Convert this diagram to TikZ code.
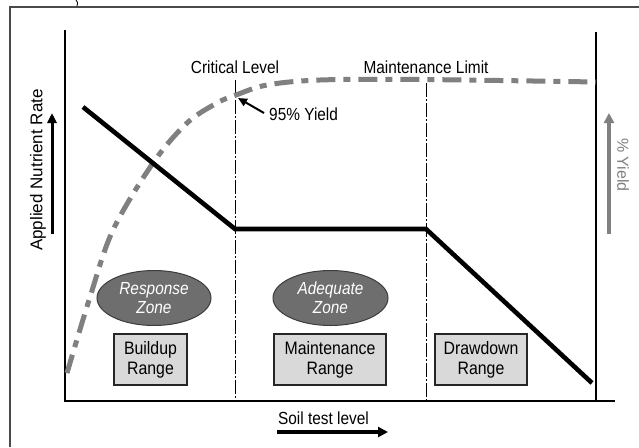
\documentclass[tikz,border=0pt]{standalone}
\usepackage{fontspec}
\setmainfont{Liberation Sans}[FakeStretch=0.88]
\newfontfamily\widesans{Liberation Sans}
\usetikzlibrary{arrows.meta,shapes.geometric}
\definecolor{curvegray}{HTML}{808080}
\definecolor{zonegray}{HTML}{6E6E6E}
\definecolor{zoneedge}{HTML}{3C3C3C}
\definecolor{boxgray}{HTML}{D9D9D9}
\definecolor{framegray}{HTML}{4A4A4A}
\tikzset{
  lbl/.style={inner sep=0pt, font=\fontsize{17.5}{20}\selectfont, text=black},
  zonebox/.style={ellipse, draw=zoneedge, line width=1pt, fill=zonegray, inner sep=0pt,
    text=white, align=center, font=\fontsize{17.5}{19}\selectfont\itshape},
  rangebox/.style={rectangle, draw=black!85, line width=1.4pt, fill=boxgray, inner sep=0pt,
    align=center, font=\fontsize{18}{20}\selectfont},
  axisline/.style={line width=1.4pt, black},
  levelline/.style={line width=1pt, black, dash pattern=on 14pt off 2pt on 2pt off 2pt},
  rateline/.style={line width=4.6pt, black},
  yieldcurve/.style={line width=5pt, curvegray, dash pattern=on 19pt off 8pt on 7pt off 8pt},
}
\begin{document}
\begin{tikzpicture}[x=1pt,y=-1pt]
\useasboundingbox (0,0) rectangle (639,447);
% outer frame
\draw[framegray, line width=1.4pt] (10,447) -- (10,7) -- (639,7);
\draw[black, line width=0.8pt] (76,0) .. controls (78,3) .. (77,6);
% axes
\coordinate (ytop) at (65,30);
\coordinate (orig) at (65,401);
\coordinate (xend) at (615,401);
\coordinate (rtop) at (596,32);
\coordinate (rbot) at (596,401);
\draw[axisline] (ytop) -- (orig) -- (xend);
\draw[axisline] (rtop) -- (rbot);
% level lines
\coordinate (c1) at (235,80);
\coordinate (c2) at (235,401);
\coordinate (m1) at (426,83);
\coordinate (m2) at (426,401);
\draw[levelline] (c1) -- (c2);
\draw[levelline] (m1) -- (m2);
% yield curve
\draw[yieldcurve] plot[smooth, tension=0.55] coordinates {(67,373) (90,297) (113,230) (153,163) (187,123) (217,103) (236,95) (267,85) (320,80) (420,79.5) (596,82)};
% rate line
\coordinate (r1) at (83,107);
\coordinate (r2) at (235,229);
\coordinate (r3) at (426,229);
\coordinate (r4) at (592,383);
\draw[rateline] (r1) -- (r2) -- (r3) -- (r4);
% labels
\node[lbl] (crit) at (235,67) {Critical Level};
\node[lbl] (mlim) at (426,67) {Maintenance Limit};
\node[lbl, anchor=west] (y95) at (269,114) {95\% Yield};
\coordinate (p95) at (238,98);
\coordinate (t95) at (264,113);
\draw[line width=2pt, -{Triangle[length=9pt,width=8pt]}] (t95) -- (p95);
% axis labels
\node[lbl, rotate=90, font=\widesans\fontsize{17}{20}\selectfont] (ylab) at (38,170) {Applied Nutrient Rate};
\coordinate (ya1) at (52,234);
\coordinate (ya2) at (52,113);
\draw[line width=3pt, -{Triangle[length=10pt,width=9pt]}] (ya1) -- (ya2);
\node[lbl, rotate=-90, text=curvegray, font=\widesans\fontsize{16}{18}\selectfont] (rlab) at (623,165) {\% Yield};
\coordinate (ga1) at (609,234);
\coordinate (ga2) at (609,113);
\draw[line width=3.5pt, curvegray, -{Triangle[length=10pt,width=10pt]}] (ga1) -- (ga2);
\node[lbl] (soil) at (323.5,418) {Soil test level};
\coordinate (sa1) at (277,432);
\coordinate (sa2) at (388,432);
\draw[line width=4pt, -{Triangle[length=10pt,width=10pt]}] (sa1) -- (sa2);
% zones
\node[zonebox, minimum width=114pt, minimum height=55pt] (resp) at (154,298) {Response\\Zone};
\node[zonebox, minimum width=115pt, minimum height=55pt] (adeq) at (330.5,298) {Adequate\\Zone};
% ranges
\node[rangebox, minimum width=73pt, minimum height=51pt] (build) at (150.5,359.5) {Buildup\\Range};
\node[rangebox, minimum width=112pt, minimum height=51pt] (maint) at (330,359.5) {Maintenance\\Range};
\node[rangebox, minimum width=92pt, minimum height=51pt] (drawd) at (481,359.5) {Drawdown\\Range};
\end{tikzpicture}
\end{document}
